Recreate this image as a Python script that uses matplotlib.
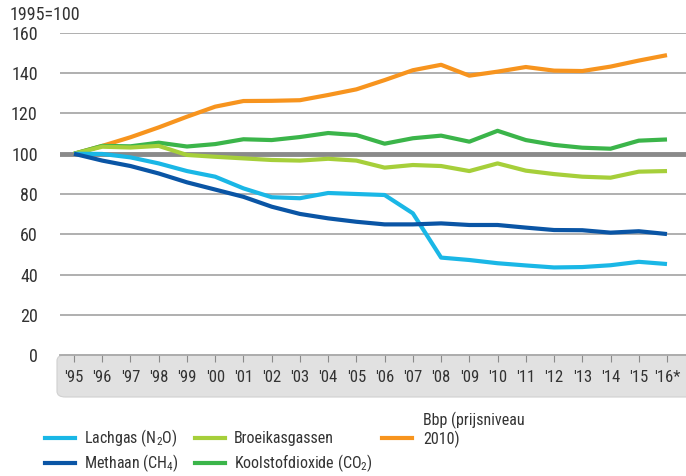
import matplotlib
matplotlib.use("Agg")
import matplotlib.pyplot as plt
from matplotlib.patches import FancyBboxPatch
from matplotlib.lines import Line2D
from matplotlib import font_manager as fm

beschikbaar = {f.name for f in fm.fontManager.ttflist}
lettertype = 'Roboto'
for kandidaat in ['Roboto Condensed', 'Open Sans Condensed', 'Fira Sans Condensed',
                  'PT Sans Narrow', 'Liberation Sans Narrow']:
    if kandidaat in beschikbaar:
        lettertype = kandidaat
        break

plt.rcParams['font.family'] = [lettertype, 'DejaVu Sans']
plt.rcParams['mathtext.fontset'] = 'custom'
plt.rcParams['mathtext.rm'] = lettertype

# data
jaren = ["'95", "'96", "'97", "'98", "'99", "'00", "'01", "'02", "'03", "'04", "'05",
         "'06", "'07", "'08", "'09", "'10", "'11", "'12", "'13", "'14", "'15", "'16*"]
lachgas = [100, 99.9, 98.2, 95.2, 91.4, 88.6, 82.8, 78.4, 77.9, 80.5, 80.0,
           79.5, 70.4, 48.4, 47.2, 45.6, 44.5, 43.5, 43.7, 44.6, 46.3, 45.2]
methaan = [100, 96.6, 93.9, 90.2, 85.8, 82.2, 78.6, 73.7, 70.1, 67.9, 66.2,
           64.9, 64.9, 65.4, 64.6, 64.6, 63.3, 62.1, 62.0, 60.8, 61.5, 60.1]
broeikas = [100, 103.5, 103.1, 103.9, 99.4, 98.5, 97.7, 96.9, 96.6, 97.5, 96.6,
            93.1, 94.4, 93.9, 91.4, 95.2, 91.6, 89.9, 88.6, 88.1, 91.1, 91.4]
co2 = [100, 103.9, 103.7, 105.5, 103.6, 104.8, 107.2, 106.8, 108.3, 110.3, 109.3,
       105.0, 107.7, 109.0, 106.0, 111.4, 106.8, 104.4, 103.0, 102.5, 106.5, 107.1]
bbp = [100, 103.9, 108.2, 113.1, 118.4, 123.4, 126.2, 126.3, 126.6, 129.2, 132.0,
       136.6, 141.5, 144.2, 138.8, 140.8, 143.1, 141.3, 141.1, 143.3, 146.3, 149.0]

namen = ['Lachgas (N$_2$O)', 'Methaan (CH$_4$)', 'Broeikasgassen',
         'Koolstofdioxide (CO$_2$)', 'Bbp (prijsniveau\n2010)']
kleuren = ['#1ab7e6', '#0a55a5', '#a6cf3a', '#3bb54a', '#f7941e']
reeksen = [lachgas, methaan, broeikas, co2, bbp]

fig = plt.figure(figsize=(6.86, 4.76), dpi=100)
ax = fig.add_axes([60/686, 1-355/476, 626/686, 322/476])
ax.set_facecolor('none')

x = list(range(len(jaren)))
for v in [20, 40, 60, 80, 120, 140, 160]:
    ax.axhline(v, color='#a9a9a9', lw=1.3, zorder=1)
ax.axhline(100, color='#8a8a8a', lw=3.5, zorder=1)

# volgorde van tekenen zoals in het origineel
for i in [4, 3, 2, 0, 1]:
    ax.plot(x, reeksen[i], color=kleuren[i], lw=3, zorder=3, solid_capstyle='butt')

ax.set_xlim(-14/28.24, 21 + 19/28.24)
ax.set_ylim(0, 160)
ax.set_yticks(range(0, 161, 20))
ax.set_xticks(x)
ax.set_xticklabels(jaren)
ax.tick_params(axis='y', length=0, pad=16, labelsize=13, labelcolor='#333333')
ax.tick_params(axis='x', length=5, width=0.8, color='#8a8a8a', pad=6,
               labelsize=12, labelcolor='#333333')
for s in ['top', 'right', 'left']:
    ax.spines[s].set_visible(False)
ax.spines['bottom'].set_color('#a9a9a9')
ax.spines['bottom'].set_linewidth(1.3)

# grijze band onder de x-as
band = FancyBboxPatch((57/686, 1-397/476), 640/686, 42/476,
                      boxstyle='round,pad=0,rounding_size=0.012',
                      transform=fig.transFigure, facecolor='#e1e1e1',
                      edgecolor='#d0d0d0', lw=0.8, zorder=-1)
fig.patches.append(band)

fig.text(10/686, 1-15/476, '1995=100', fontsize=13, color='#333333', va='center')

# legenda
posities = [(45, 438), (45, 463), (195, 438), (195, 463), (382, 438)]
for (px, py), naam, kl in zip(posities, namen, kleuren):
    fig.lines.append(Line2D([px/686, (px+30)/686], [1-py/476, 1-py/476],
                            transform=fig.transFigure, color=kl, lw=3))
    if '\n' in naam:
        fig.text((px+41)/686, 1-(py+10)/476, naam, fontsize=11.5, color='#333333',
                 va='bottom', linespacing=1.15)
    else:
        fig.text((px+39)/686, 1-py/476, naam, fontsize=11.5, color='#333333', va='center')

fig.savefig('out.png', dpi=100)
